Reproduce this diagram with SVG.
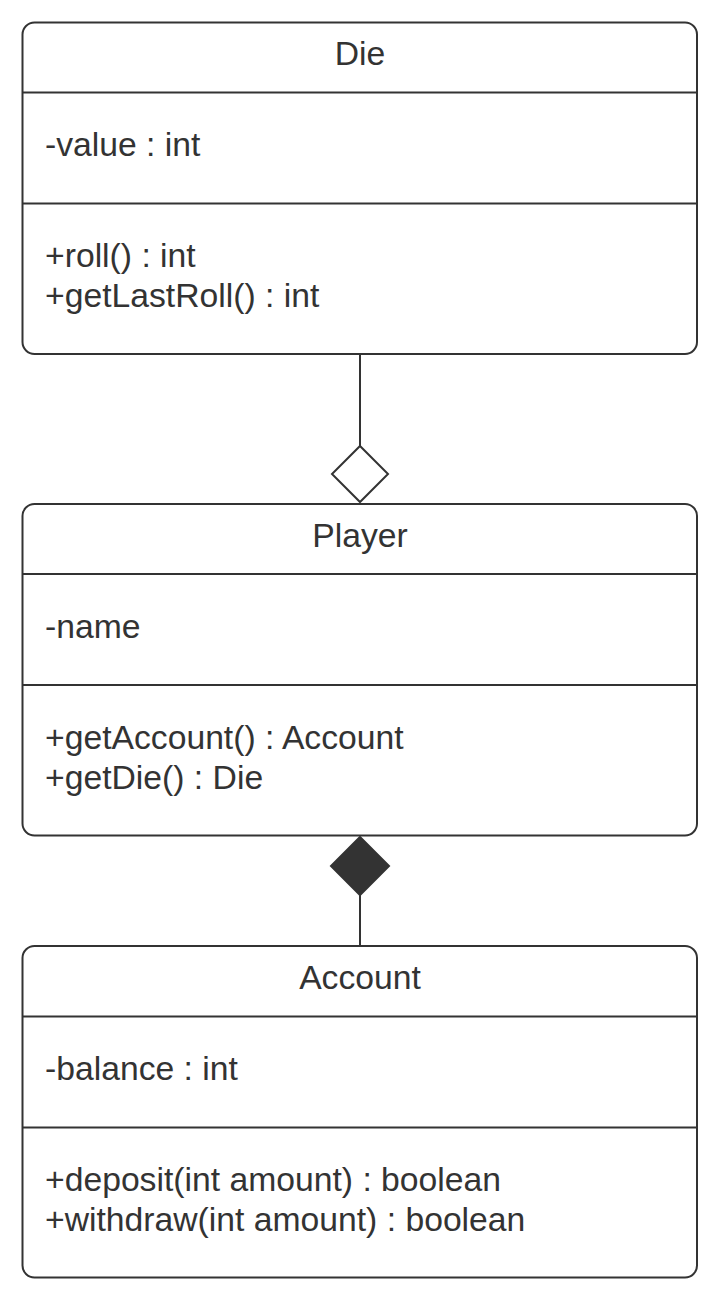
<svg xmlns="http://www.w3.org/2000/svg" width="718" height="1290" viewBox="0 0 718 1290">
<style>
.box{fill:#fff;stroke:#333;stroke-width:2}
.div{stroke:#333;stroke-width:2}
.t{font-family:"Liberation Sans",Arial,sans-serif;font-size:33.7px;fill:#333}
.c{text-anchor:middle}
.conn{stroke:#333;stroke-width:2;fill:none}
</style>
<rect width="718" height="1290" fill="#fff"/>
<g id="Die">
<rect class="box" x="22.5" y="22.5" width="674.5" height="331.5" rx="12"/>
<line class="div" x1="22.5" y1="92.5" x2="697" y2="92.5"/>
<line class="div" x1="22.5" y1="203.5" x2="697" y2="203.5"/>
<text class="t c" x="360" y="65">Die</text>
<text class="t" x="45" y="156">-value : int</text>
<text class="t" x="45" y="267">+roll() : int</text>
<text class="t" x="45" y="307">+getLastRoll() : int</text>
</g>
<g id="Player">
<rect class="box" x="22.5" y="504" width="674.5" height="331.5" rx="12"/>
<line class="div" x1="22.5" y1="574" x2="697" y2="574"/>
<line class="div" x1="22.5" y1="685" x2="697" y2="685"/>
<text class="t c" x="360" y="547">Player</text>
<text class="t" x="45" y="638">-name</text>
<text class="t" x="45" y="749">+getAccount() : Account</text>
<text class="t" x="45" y="789">+getDie() : Die</text>
</g>
<g id="Account">
<rect class="box" x="22.5" y="946" width="674.5" height="331.5" rx="12"/>
<line class="div" x1="22.5" y1="1016.5" x2="697" y2="1016.5"/>
<line class="div" x1="22.5" y1="1127.5" x2="697" y2="1127.5"/>
<text class="t c" x="360" y="989">Account</text>
<text class="t" x="45" y="1080">-balance : int</text>
<text class="t" x="45" y="1191">+deposit(int amount) : boolean</text>
<text class="t" x="45" y="1231">+withdraw(int amount) : boolean</text>
</g>
<g id="connectors">
<line class="conn" x1="360" y1="354" x2="360" y2="446"/>
<polygon points="360,446 388,474 360,502 332,474" fill="#fff" stroke="#333" stroke-width="2"/>
<line class="conn" x1="360" y1="895" x2="360" y2="946"/>
<polygon points="360,837 389,866 360,895 331,866" fill="#333" stroke="#333" stroke-width="2"/>
</g>
</svg>
